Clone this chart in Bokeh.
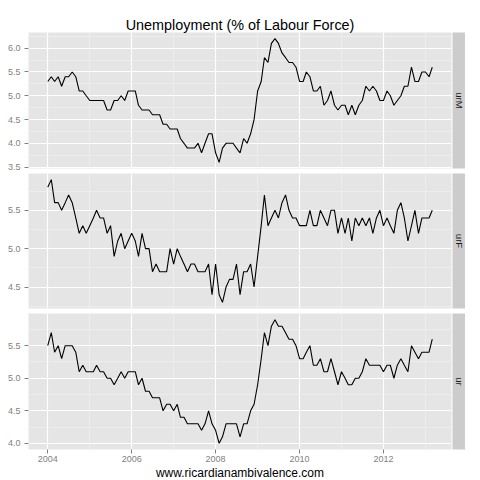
import pandas as pd
from math import pi
from bokeh.plotting import figure
from bokeh.models import (Range1d, FixedTicker, PrintfTickFormatter,
                          DatetimeTickFormatter, Label, ColumnDataSource)
from bokeh.layouts import column, row
from bokeh.embed import file_html
from bokeh.resources import INLINE

# ---------------- data ----------------
start_month = "2004-01-01"
n_months = 111

urM = [5.3, 5.4, 5.3, 5.4, 5.2, 5.4, 5.4, 5.5, 5.4, 5.1, 5.1, 5.0,
       4.9, 4.9, 4.9, 4.9, 4.9, 4.7, 4.7, 4.9, 4.9, 5.0, 4.9, 5.1,
       5.1, 5.1, 4.8, 4.7, 4.7, 4.7, 4.6, 4.6, 4.6, 4.4, 4.4, 4.3,
       4.3, 4.3, 4.1, 4.0, 3.9, 3.9, 3.9, 4.0, 3.8, 4.0, 4.2, 4.2,
       3.8, 3.6, 3.9, 4.0, 4.0, 4.0, 3.9, 3.8, 4.1, 4.0, 4.2, 4.5,
       5.1, 5.3, 5.8, 5.7, 6.1, 6.2, 6.1, 5.9, 5.8, 5.7, 5.7, 5.6,
       5.3, 5.3, 5.5, 5.4, 5.1, 5.1, 5.2, 4.8, 4.9, 5.1, 4.8, 4.7,
       4.8, 4.8, 4.6, 4.8, 4.6, 4.8, 4.9, 5.2, 5.1, 5.2, 5.1, 4.9,
       4.9, 5.1, 5.0, 4.8, 4.9, 5.0, 5.2, 5.2, 5.6, 5.3, 5.3, 5.5,
       5.5, 5.4, 5.6]

urF = [5.8, 5.9, 5.6, 5.6, 5.5, 5.6, 5.7, 5.6, 5.4, 5.2, 5.3, 5.2,
       5.3, 5.4, 5.5, 5.4, 5.4, 5.2, 5.3, 4.9, 5.1, 5.2, 5.0, 5.1,
       5.2, 5.1, 4.9, 5.2, 5.0, 5.0, 4.7, 4.8, 4.7, 4.7, 4.7, 5.0,
       4.8, 5.0, 4.9, 4.8, 4.7, 4.8, 4.8, 4.7, 4.7, 4.7, 4.8, 4.4,
       4.8, 4.4, 4.3, 4.5, 4.6, 4.6, 4.8, 4.4, 4.7, 4.7, 4.8, 4.5,
       4.9, 5.3, 5.7, 5.3, 5.4, 5.5, 5.4, 5.6, 5.7, 5.5, 5.4, 5.4,
       5.3, 5.3, 5.3, 5.5, 5.3, 5.3, 5.5, 5.4, 5.3, 5.5, 5.5, 5.2,
       5.4, 5.2, 5.4, 5.1, 5.4, 5.3, 5.4, 5.3, 5.4, 5.2, 5.4, 5.5,
       5.3, 5.4, 5.3, 5.2, 5.5, 5.6, 5.4, 5.1, 5.3, 5.5, 5.2, 5.4,
       5.4, 5.4, 5.5]

ur = [5.5, 5.7, 5.4, 5.5, 5.3, 5.5, 5.5, 5.5, 5.4, 5.1, 5.2, 5.1,
      5.1, 5.1, 5.2, 5.1, 5.1, 5.0, 5.0, 4.9, 5.0, 5.1, 5.0, 5.1,
      5.1, 5.1, 4.9, 5.0, 4.8, 4.8, 4.7, 4.7, 4.7, 4.5, 4.6, 4.6,
      4.5, 4.6, 4.4, 4.4, 4.3, 4.3, 4.3, 4.3, 4.2, 4.3, 4.5, 4.3,
      4.2, 4.0, 4.1, 4.3, 4.3, 4.3, 4.3, 4.1, 4.3, 4.3, 4.5, 4.6,
      4.9, 5.3, 5.7, 5.5, 5.8, 5.9, 5.8, 5.8, 5.7, 5.6, 5.6, 5.5,
      5.3, 5.3, 5.4, 5.5, 5.2, 5.2, 5.3, 5.1, 5.1, 5.3, 5.1, 4.9,
      5.1, 5.0, 4.9, 4.9, 5.0, 5.0, 5.1, 5.3, 5.2, 5.2, 5.2, 5.2,
      5.1, 5.2, 5.2, 5.0, 5.2, 5.3, 5.2, 5.1, 5.5, 5.4, 5.3, 5.4,
      5.4, 5.4, 5.6]

panel_names = ["urM", "urF", "ur"]
panel_series = [urM, urF, ur]
y_major_ticks = [[3.5, 4.0, 4.5, 5.0, 5.5, 6.0],
                 [4.5, 5.0, 5.5],
                 [4.0, 4.5, 5.0, 5.5]]
y_minor_ticks = [[3.75, 4.25, 4.75, 5.25, 5.75, 6.25],
                 [4.25, 4.75, 5.25, 5.75],
                 [4.25, 4.75, 5.25, 5.75]]
x_major_years = [2004, 2006, 2008, 2010, 2012]
x_minor_years = [2005, 2007, 2009, 2011, 2013]

title_text = "Unemployment (% of Labour Force)"
caption_text = "www.ricardianambivalence.com"

# ---------------- styling ----------------
FONT = "Liberation Sans"
PANEL_BG = "#E5E5E5"
STRIP_BG = "#CCCCCC"
AXIS_TEXT = "#7F7F7F"

dates = pd.date_range(start_month, periods=n_months, freq="MS")


def ms(ts):
    return pd.Timestamp(ts).value / 1e6


t0, t1 = ms(dates[0]), ms(dates[-1])
xpad = 0.05 * (t1 - t0)
x_range = Range1d(t0 - xpad, t1 + xpad)
x_ticker = FixedTicker(ticks=[ms(f"{y}-01-01") for y in x_major_years],
                       minor_ticks=[ms(f"{y}-01-01") for y in x_minor_years])

FRAME_W = 423
frame_heights = [136, 135, 136]
tops = [32, 0, 0]
bottoms = [5, 5, 31]

rows = []
for k, (name, vals) in enumerate(zip(panel_names, panel_series)):
    lo, hi = min(vals), max(vals)
    ypad = 0.05 * (hi - lo)
    last = (k == len(panel_names) - 1)
    p = figure(frame_width=FRAME_W, frame_height=frame_heights[k],
               x_axis_type="datetime",
               x_axis_location="below" if last else None,
               x_range=x_range, y_range=Range1d(lo - ypad, hi + ypad),
               output_backend="svg", toolbar_location=None,
               min_border_left=28, min_border_right=1,
               min_border_top=tops[k], min_border_bottom=bottoms[k],
               background_fill_color=PANEL_BG, border_fill_color="white",
               outline_line_color=None)
    if k == 0:
        p.title.text = title_text
        p.title.align = "center"
        p.title.text_font = FONT
        p.title.text_font_size = "14.4px"
        p.title.text_font_style = "normal"
        p.title.text_color = "black"
        p.title.standoff = 0

    yt = FixedTicker(ticks=y_major_ticks[k], minor_ticks=y_minor_ticks[k])
    p.yaxis.ticker = yt
    p.yaxis.formatter = PrintfTickFormatter(format="%.1f")
    p.ygrid.ticker = yt
    p.xgrid.ticker = x_ticker
    for g in (p.xgrid, p.ygrid):
        g.grid_line_color = "white"
        g.grid_line_width = 1.1
        g.minor_grid_line_color = "#F2F2F2"
        g.minor_grid_line_width = 0.6

    axes = list(p.yaxis) + (list(p.xaxis) if last else [])
    for ax in axes:
        ax.axis_line_color = None
        ax.major_tick_line_color = AXIS_TEXT
        ax.major_tick_line_width = 1
        ax.major_tick_in = 0
        ax.major_tick_out = 4
        ax.minor_tick_line_color = None
        ax.major_label_text_font = FONT
        ax.major_label_text_font_size = "9px"
        ax.major_label_text_color = AXIS_TEXT
    p.yaxis.major_label_standoff = 4
    if last:
        p.xaxis.ticker = x_ticker
        p.xaxis.formatter = DatetimeTickFormatter(years="%Y", months="%Y",
                                                  days="%Y")
        p.xaxis.major_label_standoff = 2
        p.xaxis.axis_label = caption_text
        p.xaxis.axis_label_text_font = FONT
        p.xaxis.axis_label_text_font_size = "12px"
        p.xaxis.axis_label_text_font_style = "normal"
        p.xaxis.axis_label_text_color = "black"
        p.xaxis.axis_label_standoff = 1

    src = ColumnDataSource(dict(date=dates, value=vals))
    p.line(x="date", y="value", source=src, line_color="black",
           line_width=1.1)

    s = figure(frame_width=13, frame_height=frame_heights[k],
               x_range=Range1d(0, 1), y_range=Range1d(0, 1),
               x_axis_location=None, y_axis_location=None,
               output_backend="svg", toolbar_location=None,
               min_border_left=0, min_border_right=0,
               min_border_top=tops[k], min_border_bottom=bottoms[k],
               background_fill_color=STRIP_BG, border_fill_color="white",
               outline_line_color=None)
    s.grid.visible = False
    s.add_layout(Label(x=6.5, y=frame_heights[k] / 2, x_units="screen",
                       y_units="screen", text=name, angle=-pi / 2,
                       text_font=FONT, text_font_size="9.6px",
                       text_color="#1A1A1A", text_align="center",
                       text_baseline="middle"))
    rows.append(row(p, s))

layout = column(*rows)
open("out.html", "w").write(file_html(layout, INLINE))
